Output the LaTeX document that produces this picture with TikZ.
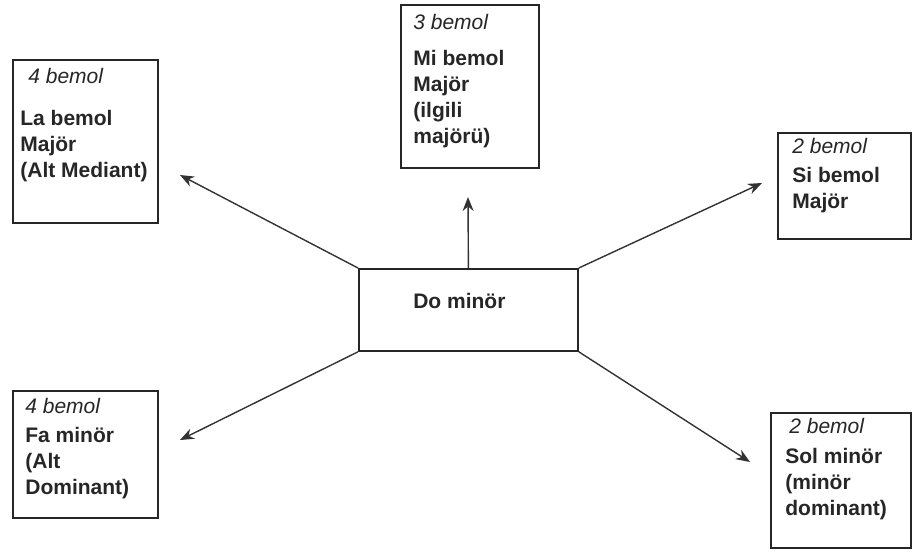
\documentclass[tikz,border=0pt]{standalone}
\usepackage{fontspec}
\setmainfont{Liberation Sans}
\usetikzlibrary{arrows.meta}

\newcommand{\bemolsayi}[1]{{\mdseries\itshape #1 bemol}}

\begin{document}
\begin{tikzpicture}[
    x=0.5pt, y=0.5pt,
    key_box/.style={draw=black!85, line width=0.9pt, inner sep=0pt, anchor=north west},
    key_text/.style={anchor=north west, inner sep=0pt, align=left,
        font=\fontsize{10.5}{13}\selectfont\bfseries, text=black!85},
    key_arrow/.style={-{Stealth[length=7pt,width=5.5pt]}, line width=0.7pt, black!80}
]
    \useasboundingbox (0,0) rectangle (912,-554);
    % Kutular
    \node[key_box, minimum width=72.5pt, minimum height=81.5pt] (labemol) at (12,-59) {};
    \node[key_box, minimum width=69pt, minimum height=81.5pt] (mibemol) at (400,-4) {};
    \node[key_box, minimum width=66.5pt, minimum height=53pt] (sibemol) at (777,-132) {};
    \node[key_box, minimum width=72.5pt, minimum height=63.5pt] (faminor) at (12,-390) {};
    \node[key_box, minimum width=70pt, minimum height=67.5pt] (solminor) at (770,-412) {};
    \node[key_box, minimum width=109.5pt, minimum height=41pt] (dominor) at (358,-268) {};
    % Yazilar
    \node[key_text] (labemol_text) at ([shift={(8,-9)}]labemol.north west)
        {\hspace*{4pt}\bemolsayi{4}\\[8pt]La bemol\\Majör\\(Alt Mediant)};
    \node[key_text] (mibemol_text) at ([shift={(13,-10)}]mibemol.north west)
        {\bemolsayi{3}\\[5pt]Mi bemol\\Majör\\(ilgili\\majörü)};
    \node[key_text] (sibemol_text) at ([shift={(15,-6)}]sibemol.north west)
        {\bemolsayi{2}\\[1.5pt]Si bemol\\Majör};
    \node[key_text] (faminor_text) at ([shift={(13,-8)}]faminor.north west)
        {\bemolsayi{4}\\[1.5pt]Fa minör\\(Alt\\Dominant)};
    \node[key_text] (solminor_text) at ([shift={(15,-6)}]solminor.north west)
        {\hspace*{2pt}\bemolsayi{2}\\[2pt]Sol minör\\(minör\\dominant)};
    \node[key_text, anchor=center] (dominor_text) at ([shift={(-9,9)}]dominor.center) {Do minör};
    % Oklar
    \coordinate (tip_la) at (180,-175);
    \coordinate (tip_mi) at (468,-197);
    \coordinate (tip_si) at (762,-183);
    \coordinate (tip_fa) at (180,-440);
    \coordinate (tip_sol) at (750,-462);
    \draw[key_arrow] (dominor.north west) -- (tip_la);
    \draw[key_arrow] (dominor.north) -- (tip_mi);
    \draw[key_arrow] (dominor.north east) -- (tip_si);
    \draw[key_arrow] (dominor.south west) -- (tip_fa);
    \draw[key_arrow] (dominor.south east) -- (tip_sol);
\end{tikzpicture}
\end{document}
